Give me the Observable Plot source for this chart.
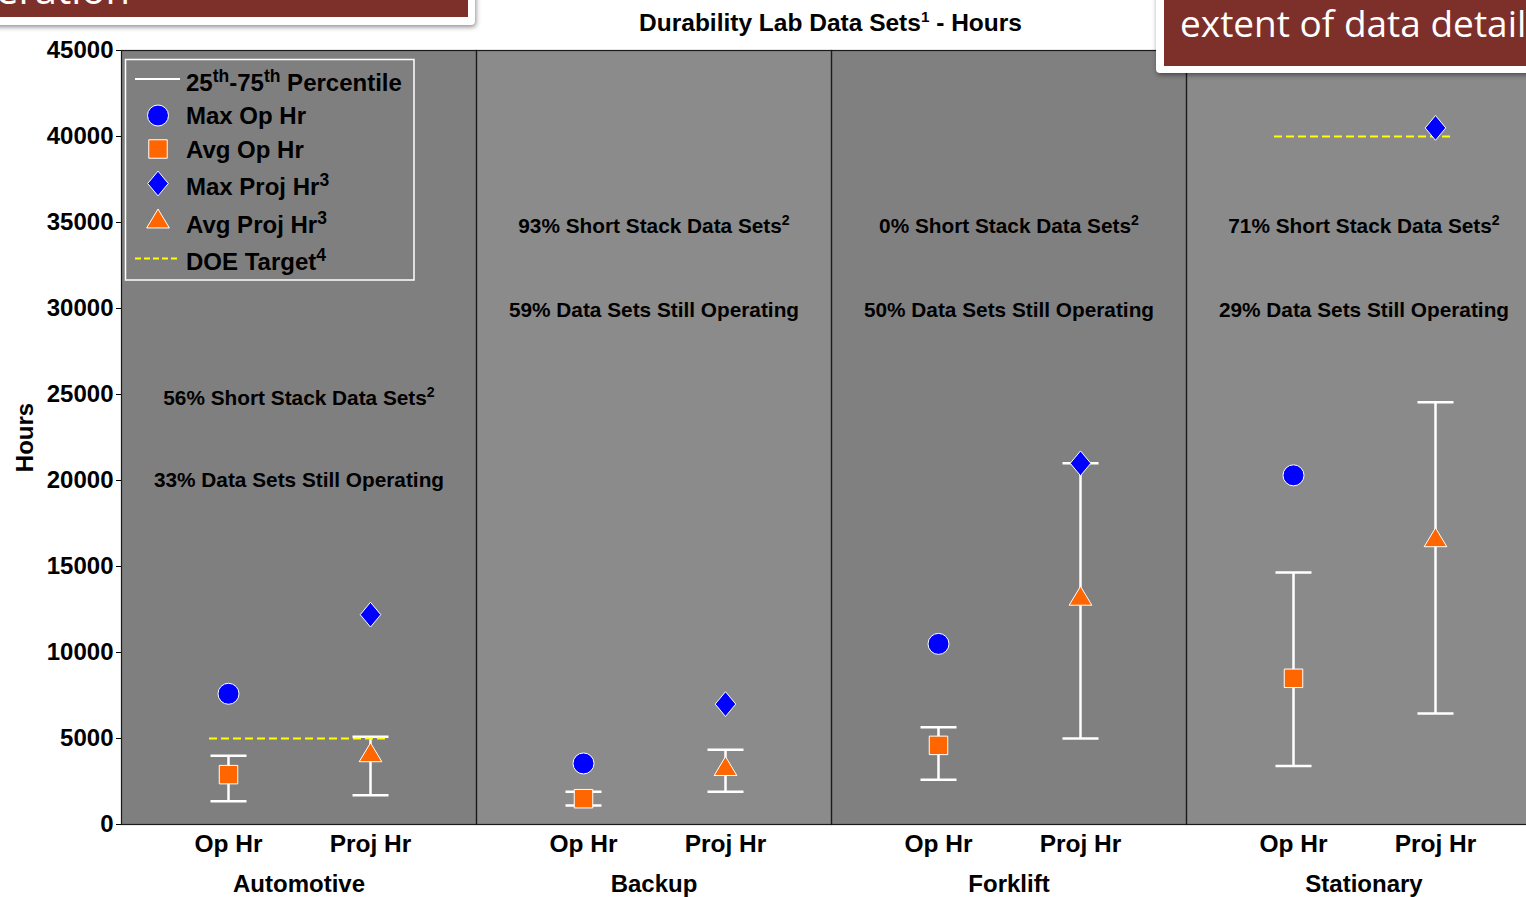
<!DOCTYPE html>
<html>
<head>
<meta charset="utf-8">
<script src="https://cdn.jsdelivr.net/npm/d3@7"></script>
<script src="https://cdn.jsdelivr.net/npm/@observablehq/plot@0.6"></script>
<style>
  html, body { margin: 0; padding: 0; background: #fff; overflow: hidden; }
  #wrap { position: relative; width: 1526px; height: 897px; overflow: hidden; background: #fff; }
  #chart { position: absolute; left: 0; top: 0; width: 1544px; }
  #chart svg { max-width: none !important; }
  #title {
    position: absolute; left: 119px; width: 1423px; top: 11px;
    text-align: center; font: bold 24.5px/24px "Liberation Sans", Arial, sans-serif; color: #000;
  }
  #title sup { font-size: 0.62em; line-height: 0; vertical-align: 0.6em; }
  .banner { position: absolute; background: #fff; box-shadow: 1px 2px 5px rgba(0,0,0,0.45); border-radius: 4px; }
  .banner .fill { position: absolute; left: 0; top: 0; background: #7d302a; overflow: hidden; }
  .banner span { position: absolute; white-space: nowrap; color: #fff; font-family: "Open Sans", sans-serif; }
  #bannerL { left: -12px; top: -12px; width: 487px; height: 37px; }
  #bannerL .fill { right: 7px; bottom: 8px; }
  #bannerL span { right: 338px; top: -19.5px; font-size: 40px; line-height: 40px; }
  #bannerR { left: 1156px; top: -12px; width: 400px; height: 85px; }
  #bannerR .fill { left: 8px; right: 0; bottom: 7px; }
  #bannerR span { left: 16px; top: 16px; font-size: 37px; line-height: 37px; }
  #legend { position: absolute; left: 120px; top: 50px; }
</style>
</head>
<body>
<div id="wrap">
  <div id="chart"></div>
  <div id="title">Durability Lab Data Sets<sup>1</sup> - Hours</div>
  <div id="legend"></div>
  <div class="banner" id="bannerL"><div class="fill"><span>Operation</span></div></div>
  <div class="banner" id="bannerR"><div class="fill"><span>extent of data detail</span></div></div>
</div>
<script>
// Durability lab data sets, hours per application
const applications = ["Automotive", "Backup", "Forklift", "Stationary"];
const measures = ["Op Hr", "Proj Hr"];

const maxOpHr   = [7600, 3550, 10500, 20300];
const avgOpHr   = [2900, 1500, 4600, 8500];
const opHrP25   = [1350, 1100, 2600, 3400];
const opHrP75   = [4000, 1900, 5650, 14650];

const maxProjHr = [12200, 7000, 21000, 40500];
const avgProjHr = [4200, 3400, 13300, 16700];
const projHrP25 = [1700, 1900, 5000, 6450];
const projHrP75 = [5100, 4350, 21000, 24550];

const doeTarget = [5000, null, null, 40000];

const shortStackPct     = [56, 93, 0, 71];
const stillOperatingPct = [33, 59, 50, 29];

const yTicks = [0, 5000, 10000, 15000, 20000, 25000, 30000, 35000, 40000, 45000];

// ---- styling ----
const panelFill = { Automotive: "#7f7f7f", Backup: "#8b8b8b", Forklift: "#808080", Stationary: "#8a8a8a" };
const blue = "#0000ff", orange = "#ff6600", target = "#ffff00";
// vertical placement (hours) of the two note lines in each panel
const notePlacement = app => app === "Automotive" ? [24800, 20000] : [34800, 29900];

// marker shapes (r derived from the symbol area)
const sym = fn => ({ draw(c, size) { fn(c, Math.sqrt(size / Math.PI)); } });
const circleSym   = sym((c, r) => { c.moveTo(r, 0); c.arc(0, 0, r, 0, 2 * Math.PI); c.closePath(); });
const squareSym   = sym((c, r) => { const h = 0.88 * r; c.rect(-h, -h, 2 * h, 2 * h); });
const diamondSym  = sym((c, r) => { const w = 0.98 * r, h = 1.18 * r; c.moveTo(0, -h); c.lineTo(w, 0); c.lineTo(0, h); c.lineTo(-w, 0); c.closePath(); });
const triangleSym = sym((c, r) => { const w = 1.08 * r, h = 0.9 * r; c.moveTo(0, -h); c.lineTo(w, h); c.lineTo(-w, h); c.closePath(); });
const capSym      = sym((c, r) => { c.moveTo(-r, 0); c.lineTo(r, 0); });
const R = 10.5;

// ---- tables built from the arrays ----
const spreads = applications.flatMap((app, i) => [
  { app, measure: measures[0], p25: opHrP25[i],   p75: opHrP75[i] },
  { app, measure: measures[1], p25: projHrP25[i], p75: projHrP75[i] }
]);
const point = (arr, m) => applications.map((app, i) => ({ app, measure: m, value: arr[i] }));
const maxOp   = point(maxOpHr, measures[0]);
const avgOp   = point(avgOpHr, measures[0]);
const maxProj = point(maxProjHr, measures[1]);
const avgProj = point(avgProjHr, measures[1]);
const targets = applications.map((app, i) => ({ app, value: doeTarget[i] })).filter(d => d.value != null);
const notes = applications.flatMap((app, i) => {
  const [y1, y2] = notePlacement(app);
  return [
    { app, y: y1, text: `${shortStackPct[i]}% Short Stack Data Sets²` },
    { app, y: y2, text: `${stillOperatingPct[i]}% Data Sets Still Operating` }
  ];
});

const chart = Plot.plot({
  width: 1544, height: 897,
  marginTop: 50, marginBottom: 73, marginLeft: 119, marginRight: 2,
  style: { fontFamily: "'Liberation Sans', Arial, sans-serif", fontWeight: "bold", color: "#000",
           background: "transparent", overflow: "visible", maxWidth: "none" },
  fx: { domain: applications, padding: 0 },
  x: { type: "point", domain: measures, padding: 0.75 },
  y: { domain: [0, 45000] },
  color: { type: "identity" },
  marks: [
    Plot.rect(applications, { fx: d => d, fill: d => panelFill[d] }),
    Plot.frame({ stroke: "#1a1a1a", strokeWidth: 1.2 }),
    Plot.axisY({ ticks: yTicks, tickFormat: "d", tickSize: 5, tickPadding: 3, fontSize: 24,
                 label: "Hours", labelAnchor: "center", labelOffset: 106, labelArrow: "none" }),
    Plot.axisX({ anchor: "bottom", tickSize: 0, tickPadding: 10, fontSize: 24.5, label: null }),
    Plot.axisFx({ anchor: "bottom", tickSize: 0, tickPadding: 50, fontSize: 24, label: null }),
    Plot.text(notes, { fx: "app", y: "y", text: "text", frameAnchor: "middle", fontSize: 20.8, fill: "#000" }),
    Plot.ruleX(spreads, { fx: "app", x: "measure", y1: "p25", y2: "p75", stroke: "white", strokeWidth: 2.5 }),
    Plot.dot(spreads, { fx: "app", x: "measure", y: "p25", symbol: capSym, r: 18, fill: "none", stroke: "white", strokeWidth: 2.5 }),
    Plot.dot(spreads, { fx: "app", x: "measure", y: "p75", symbol: capSym, r: 18, fill: "none", stroke: "white", strokeWidth: 2.5 }),
    Plot.ruleY(targets, { fx: "app", y: "value", x1: () => measures[0], x2: () => measures[1],
                          insetLeft: -19, insetRight: -17, stroke: target, strokeWidth: 2, strokeDasharray: "8,4" }),
    Plot.dot(maxOp,   { fx: "app", x: "measure", y: "value", symbol: circleSym,   r: R, fill: blue,   stroke: "white", strokeWidth: 1 }),
    Plot.dot(avgOp,   { fx: "app", x: "measure", y: "value", symbol: squareSym,   r: R, fill: orange, stroke: "white", strokeWidth: 1 }),
    Plot.dot(maxProj, { fx: "app", x: "measure", y: "value", symbol: diamondSym,  r: R, fill: blue,   stroke: "white", strokeWidth: 1 }),
    Plot.dot(avgProj, { fx: "app", x: "measure", y: "value", symbol: triangleSym, r: R, fill: orange, stroke: "white", strokeWidth: 1 })
  ]
});
chart.style.maxWidth = "none";
document.getElementById("chart").appendChild(chart);

// raise footnote digits
d3.select(chart).selectAll("text").each(function () {
  if (this.childElementCount || !this.textContent.includes("²")) return;
  const s = this.textContent;
  this.textContent = s.replace("²", "");
  d3.select(this).append("tspan").attr("dy", -8).attr("font-size", "0.68em").text("2");
});

// ---- legend ----
const legendItems = [
  { kind: "line",  parts: [["25"], ["th", 1], ["-75"], ["th", 1], [" Percentile"]] },
  { kind: circleSym,   fill: blue,   parts: [["Max Op Hr"]] },
  { kind: squareSym,   fill: orange, parts: [["Avg Op Hr"]] },
  { kind: diamondSym,  fill: blue,   parts: [["Max Proj Hr"], ["3", 1]] },
  { kind: triangleSym, fill: orange, parts: [["Avg Proj Hr"], ["3", 1]] },
  { kind: "dash",  parts: [["DOE Target"], ["4", 1]] }
];
const symbolY = [29, 65.5, 99, 133.5, 168.5, 208.5];
const labelY  = [40.5, 74, 107.5, 145, 182.5, 220];
const supShift = 9;

const lg = d3.select("#legend").append("svg").attr("width", 300).attr("height", 240)
  .style("font-family", "'Liberation Sans', Arial, sans-serif").style("font-weight", "bold");
lg.append("rect").attr("x", 5.5).attr("y", 9.5).attr("width", 288.5).attr("height", 220.5)
  .attr("fill", "none").attr("stroke", "white").attr("stroke-width", 1.5);
legendItems.forEach((d, i) => {
  const y = symbolY[i];
  if (d.kind === "line") {
    lg.append("line").attr("x1", 15).attr("x2", 60).attr("y1", y).attr("y2", y).attr("stroke", "white").attr("stroke-width", 2);
  } else if (d.kind === "dash") {
    lg.append("line").attr("x1", 15).attr("x2", 60).attr("y1", y).attr("y2", y)
      .attr("stroke", target).attr("stroke-width", 2).attr("stroke-dasharray", "6,3");
  } else {
    const p = d3.path(); d.kind.draw(p, Math.PI * R * R);
    lg.append("path").attr("d", p.toString()).attr("transform", `translate(38,${y})`)
      .attr("fill", d.fill).attr("stroke", "white").attr("stroke-width", 1);
  }
  const t = lg.append("text").attr("x", 66).attr("y", labelY[i]).attr("font-size", 24).attr("fill", "#000");
  let raised = false;
  d.parts.forEach(([s, sup]) => {
    const ts = t.append("tspan").text(s);
    if (sup) {
      ts.attr("font-size", 17.5);
      if (!raised) { ts.attr("dy", -supShift); raised = true; }
    } else if (raised) {
      ts.attr("dy", supShift); raised = false;
    }
  });
});
</script>
</body>
</html>
